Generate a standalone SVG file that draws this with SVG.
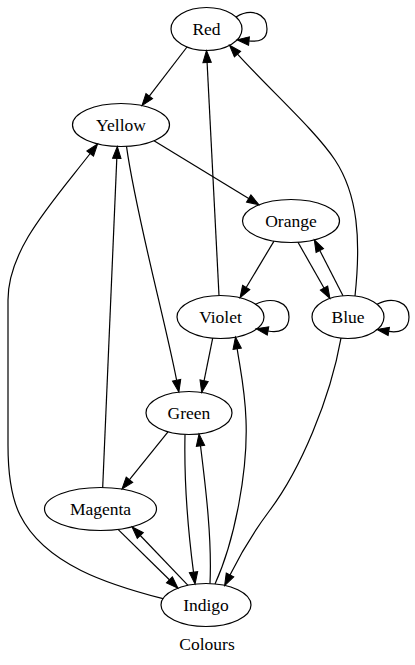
<svg xmlns="http://www.w3.org/2000/svg" width="415" height="665" viewBox="0 0 415 665">
<defs>
<style>
.node ellipse{fill:none;stroke:#000;stroke-width:1.2}
.node text,.lbl{font-family:"Liberation Serif","Times New Roman",serif;font-size:17.5px;fill:#000;text-anchor:middle}
.edges path{fill:none;stroke:#000;stroke-width:1.2;marker-end:url(#ah)}
</style>
<marker id="ah" markerUnits="userSpaceOnUse" markerWidth="12" markerHeight="9" refX="0" refY="4.2" orient="auto" overflow="visible">
<path d="M0,0 L12,4.2 L0,8.4 Z" fill="#000" stroke="#000" stroke-width="1"/>
</marker>
</defs>
<rect width="415" height="665" fill="#fff"/>
<g id="edges" class="edges">
<path d="M236,17 C251,8 267,13 267,29 C267,40 259,42 249,41"/>
<path d="M187,47 L149.3,96.1"/>
<path d="M154,140.8 L248.7,198.5"/>
<path d="M126.5,146.4 C136,215 165,320 176.6,380.2"/>
<path d="M219,295.5 L207.1,62.5"/>
<path d="M355,296 C361,240 358,195 335,160 C315,130 270,90 237.5,54.1"/>
<path d="M274,241.1 L246.2,287.5"/>
<path d="M298,242.3 L324,288"/>
<path d="M343,295.7 L319.8,250.5"/>
<path d="M255,304.5 C272,296 289,302 289,317 C289,330 279,333 268,331"/>
<path d="M377,304.3 C393,296 409,302 409,317 C409,330 399,333 388.8,331.4"/>
<path d="M212.7,338.1 L204.1,380.7"/>
<path d="M215,584 C235,540 248,470 246,420 C245,390 240,368 237.2,348.8"/>
<path d="M168,431.8 L129.5,479.7"/>
<path d="M185,434.4 C184,480 188,530 193.5,572.2"/>
<path d="M210,583.6 C212,540 206,490 200.5,445.8"/>
<path d="M102.7,487.5 L116.8,158.4"/>
<path d="M163,598.7 C110,585 45,565 20,515 C10,495 8,470 8,445 L8,300 C8,250 50,205 90.2,153.5"/>
<path d="M341,338.1 C330,400 300,470 270,510 C255,530 240,555 230,574.9"/>
<path d="M118,529.4 L169.4,579.8"/>
<path d="M188,585.3 L140.3,535.5"/>
</g>
<g id="node-red" class="node"><ellipse cx="206.5" cy="29" rx="35.5" ry="21.5"/><text x="206.5" y="35">Red</text></g>
<g id="node-yellow" class="node"><ellipse cx="121" cy="125" rx="48.5" ry="21.5"/><text x="121" y="131">Yellow</text></g>
<g id="node-orange" class="node"><ellipse cx="291" cy="221" rx="48.5" ry="21.5"/><text x="291" y="227">Orange</text></g>
<g id="node-violet" class="node"><ellipse cx="220.5" cy="317" rx="43.5" ry="21.5"/><text x="220.5" y="323">Violet</text></g>
<g id="node-blue" class="node"><ellipse cx="348" cy="317" rx="36" ry="21.5"/><text x="348" y="323">Blue</text></g>
<g id="node-green" class="node"><ellipse cx="189" cy="413" rx="43" ry="21.5"/><text x="189" y="419">Green</text></g>
<g id="node-magenta" class="node"><ellipse cx="100.5" cy="509" rx="56" ry="21.5"/><text x="100.5" y="515">Magenta</text></g>
<g id="node-indigo" class="node"><ellipse cx="206" cy="605" rx="45" ry="21.5"/><text x="206" y="611">Indigo</text></g>
<text class="lbl" x="207" y="650">Colours</text>
</svg>
